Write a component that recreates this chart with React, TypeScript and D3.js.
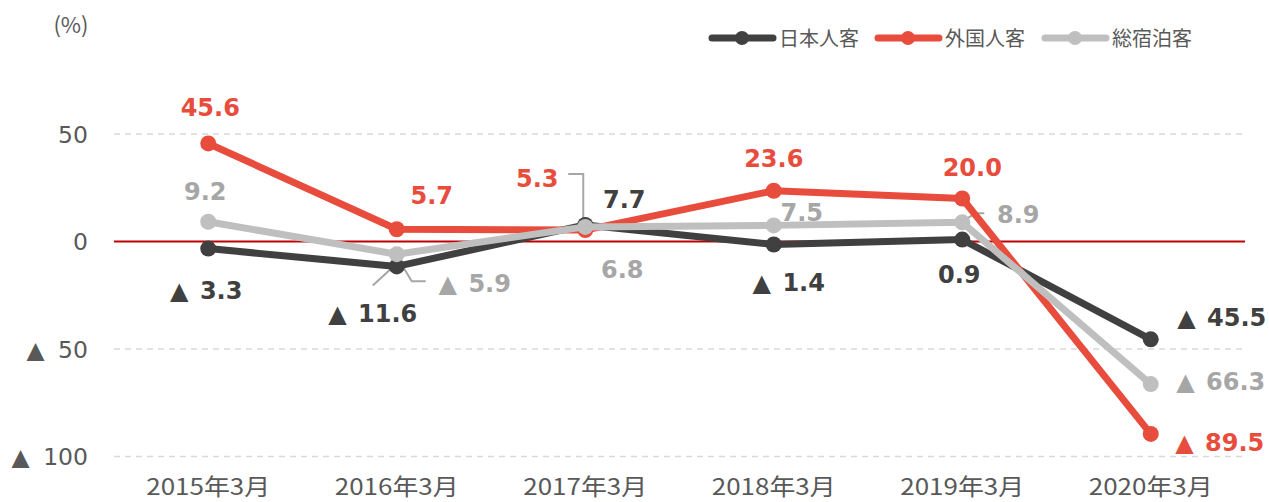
import React from "react";
import * as d3 from "d3";

const categories = ["2015年3月", "2016年3月", "2017年3月", "2018年3月", "2019年3月", "2020年3月"];
const japanese = [-3.3, -11.6, 7.7, -1.4, 0.9, -45.5];
const foreign = [45.6, 5.7, 5.3, 23.6, 20.0, -89.5];
const total = [9.2, -5.9, 6.8, 7.5, 8.9, -66.3];
const yTicks = [50, 0, -50, -100];
const seriesNames = ["日本人客", "外国人客", "総宿泊客"];

// label centre offsets (dx, dy) relative to each point, styling only
const jpOffsets = [[-2, 41], [-24, 47], [39, -26], [15, 37], [-3, 34], [71, -22]];
const frOffsets = [[2, -36], [35, -34], [-48, -52], [0, -33], [10, -32], [69, 8]];
const ttOffsets = [[-3, -31], [78, 29], [37, 42], [28, -13], [56, -8], [70, -3]];

const W = 1269;
const H = 502;

export default function App() {
  const x = d3.scaleBand<string>().domain(categories).range([114, 1245]);
  const cx = (i: number) => (x(categories[i]) as number) + x.bandwidth() / 2;
  const y = d3.scaleLinear().domain([-100, 50]).range([456.5, 134]);

  const line = d3
    .line<number>()
    .x((_, i) => cx(i))
    .y((d) => y(d));

  const series = [
    { name: seriesNames[0], values: japanese, color: "#404040", label: "#404040", offs: jpOffsets },
    { name: seriesNames[1], values: foreign, color: "#E84C3D", label: "#E84C3D", offs: frOffsets },
    { name: seriesNames[2], values: total, color: "#BFBFBF", label: "#A6A6A6", offs: ttOffsets },
  ];

  const labelFont = "'DejaVu Sans', Verdana, sans-serif";
  const cjkFont = "'Noto Sans CJK JP', 'Noto Sans', sans-serif";

  const legendX = [712, 878, 1045];

  const renderValue = (v: number, gap: number) =>
    v < 0 ? (
      <>
        <tspan>▲</tspan>
        <tspan dx={gap}>{" " + Math.abs(v).toFixed(1)}</tspan>
      </>
    ) : (
      v.toFixed(1)
    );

  return (
    <svg
      width={W}
      height={H}
      style={{ position: "absolute", left: 0, top: 0, display: "block", background: "#fff" }}
    >
      {/* unit */}
      <text x={71} y={33} textAnchor="middle" fontFamily={cjkFont} fontSize={22} fill="#595959">
        (%)
      </text>

      {/* grid lines */}
      {yTicks.map((t) =>
        t === 0 ? null : (
          <line
            key={t}
            x1={114}
            x2={1245}
            y1={y(t)}
            y2={y(t)}
            stroke="#D9D9D9"
            strokeWidth={1.3}
            strokeDasharray="6,5"
          />
        )
      )}
      <line x1={114} x2={1245} y1={y(0)} y2={y(0)} stroke="#C00000" strokeWidth={2.2} />

      {/* y tick labels */}
      {yTicks.map((t) => (
        <text
          key={"yt" + t}
          x={88}
          y={y(t) + 8.5}
          textAnchor="end"
          fontFamily={labelFont}
          fontSize={23.5}
          fill="#595959"
        >
          {t < 0 ? (
            <>
              <tspan>▲</tspan>
              <tspan dx={6}>{" " + Math.abs(t)}</tspan>
            </>
          ) : (
            String(t)
          )}
        </text>
      ))}

      {/* x tick labels */}
      {categories.map((c, i) => (
        <text
          key={c}
          x={cx(i)}
          y={495}
          textAnchor="middle"
          fontFamily={cjkFont}
          fontSize={23}
          fill="#595959"
          textLength={124}
          lengthAdjust="spacingAndGlyphs"
        >
          {c}
        </text>
      ))}

      {/* leader lines */}
      <polyline
        points={`${cx(1) - 24},${y(-11.6) + 19} ${cx(1)},${y(-11.6) - 3}`}
        fill="none"
        stroke="#A6A6A6"
        strokeWidth={2}
      />
      <polyline
        points={`${cx(1)},${y(-5.9) + 2} ${cx(1) + 15},${y(-5.9) + 27} ${cx(1) + 29},${y(-5.9) + 27}`}
        fill="none"
        stroke="#A6A6A6"
        strokeWidth={2}
      />
      <polyline
        points={`${cx(2) - 17},${y(5.3) - 56} ${cx(2) - 2},${y(5.3) - 56} ${cx(2) - 2},${y(5.3) - 2}`}
        fill="none"
        stroke="#A6A6A6"
        strokeWidth={2}
      />
      <polyline
        points={`${cx(4) + 2},${y(8.9) - 2} ${cx(4) + 13},${y(8.9) - 9} ${cx(4) + 22},${y(8.9) - 9}`}
        fill="none"
        stroke="#A6A6A6"
        strokeWidth={2}
      />

      {/* lines and markers */}
      {series.map((s) => (
        <g key={s.name}>
          <path d={line(s.values) || ""} fill="none" stroke={s.color} strokeWidth={7} strokeLinejoin="round" />
          {s.values.map((v, i) => (
            <circle key={i} cx={cx(i)} cy={y(v)} r={8} fill={s.color} />
          ))}
        </g>
      ))}

      {/* data labels */}
      {series.map((s) =>
        s.values.map((v, i) => (
          <text
            key={s.name + i}
            x={cx(i) + s.offs[i][0]}
            y={y(v) + s.offs[i][1] + 9}
            textAnchor="middle"
            fontFamily={labelFont}
            fontWeight="bold"
            fontSize={24}
            fill={s.label}
          >
            {renderValue(v, 3)}
          </text>
        ))
      )}

      {/* legend */}
      {series.map((s, i) => (
        <g key={"lg" + i} transform={`translate(${legendX[i]},38)`}>
          <line x1={0} x2={61} y1={0} y2={0} stroke={s.color} strokeWidth={7} strokeLinecap="round" />
          <circle cx={30} cy={0} r={7} fill={s.color} />
          <text x={67} y={8} fontFamily={cjkFont} fontSize={20} fill="#595959">
            {s.name}
          </text>
        </g>
      ))}
    </svg>
  );
}
